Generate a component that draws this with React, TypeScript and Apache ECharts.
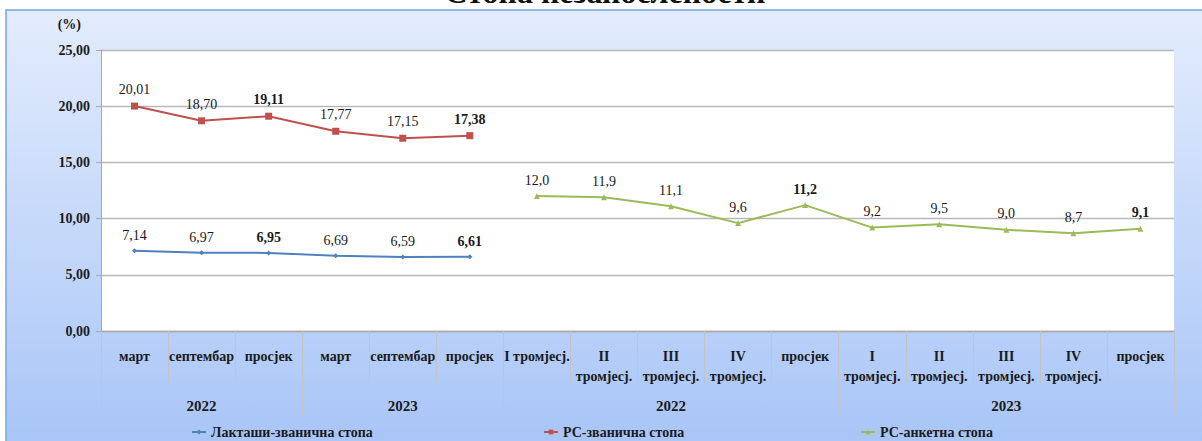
import React, { useEffect, useRef } from 'react';
import * as echarts from 'echarts';

const title = 'Стопа незапослености';
const unitLabel = '(%)';
const categories = [
  'март', 'септембар', 'просјек', 'март', 'септембар', 'просјек',
  'I тромјесј.', 'II\nтромјесј.', 'III\nтромјесј.', 'IV\nтромјесј.', 'просјек',
  'I\nтромјесј.', 'II\nтромјесј.', 'III\nтромјесј.', 'IV\nтромјесј.', 'просјек',
];
const yearGroups = ['2022', '2023', '2022', '2023'];
const groupSizes = [3, 3, 5, 5];
const seriesNames = ['Лакташи-званична стопа', 'РС-званична стопа', 'РС-анкетна стопа'];
const laktasiOfficial = [7.14, 6.97, 6.95, 6.69, 6.59, 6.61];
const rsOfficial = [20.01, 18.7, 19.11, 17.77, 17.15, 17.38];
const rsSurvey = [12.0, 11.9, 11.1, 9.6, 11.2, 9.2, 9.5, 9.0, 8.7, 9.1];
const yTicks = [0, 5, 10, 15, 20, 25];

const FONT = "'Liberation Serif', 'Times New Roman', serif";
const TEXT = '#1a1a1a';

function groupStarts(): number[] {
  const s: number[] = [];
  let acc = 0;
  groupSizes.forEach((g) => { s.push(acc); acc += g; });
  return s;
}

function yearAxisData(): string[] {
  const arr = categories.map(() => '');
  const starts = groupStarts();
  starts.forEach((st, gi) => { arr[st + Math.floor(groupSizes[gi] / 2)] = yearGroups[gi]; });
  return arr;
}

function buildData(values: number[], start: number) {
  return categories.map((c, i) => {
    if (i < start || i >= start + values.length) return null;
    const v = values[i - start];
    return c === 'просјек' ? { value: v, label: { fontWeight: 'bold' } } : v;
  });
}

const fmt = (d: number) => (p: any) => {
  const v = p.value;
  if (v == null || v === '-') return '';
  return Number(v).toFixed(d).replace('.', ',');
};

export default function App() {
  const ref = useRef<HTMLDivElement>(null);
  useEffect(() => {
    document.body.style.margin = '0';
    const chart = echarts.init(ref.current!, null, { renderer: 'svg' });
    const starts = groupStarts();
    const yearData = yearAxisData();
    const colors = ['#4f81bd', '#c0504d', '#9bbb59'];
    const symbols = ['diamond', 'rect', 'triangle'];
    const symbolSizes = [5, 7, 6];
    const seriesValues = [laktasiOfficial, rsOfficial, rsSurvey];
    const seriesStart = [0, 0, starts[2]];
    const decimals = [2, 2, 1];
    const legendLeft = [186, 538, 855];

    chart.setOption({
      animation: false,
      graphic: [
        {
          type: 'rect',
          z: -100,
          silent: true,
          shape: { x: 6, y: 10, width: 1220, height: 460 },
          style: {
            fill: new echarts.graphic.LinearGradient(0, 0, 0, 1, [
              { offset: 0, color: '#e3ecfd' },
              { offset: 1, color: '#a5c3f7' },
            ]),
            stroke: '#78a5db',
            lineWidth: 1.5,
          },
        },
        {
          type: 'text',
          z: 100,
          x: 605,
          y: -8,
          style: {
            text: title,
            fontFamily: FONT,
            fontWeight: 'bold',
            fontSize: 32,
            fill: '#111',
            align: 'center',
            verticalAlign: 'middle',
          },
        },
      ],
      grid: {
        left: 101, top: 50, right: 28, bottom: 110,
        show: true, backgroundColor: '#ffffff', borderWidth: 0,
      },
      legend: seriesNames.map((n, i) => ({
        data: [n],
        left: legendLeft[i],
        top: 420,
        itemWidth: 14,
        itemHeight: 6,
        itemGap: 4,
        textStyle: { fontFamily: FONT, fontWeight: 'bold', fontSize: 14, color: TEXT },
      })),
      xAxis: [
        {
          type: 'category',
          data: categories,
          boundaryGap: true,
          axisLine: { show: true, lineStyle: { color: '#a8a8a8', width: 1.3 } },
          axisTick: { show: true, interval: 0, length: 52, lineStyle: { color: '#c4c4c4' } },
          axisLabel: {
            interval: 0, margin: 15, fontFamily: FONT, fontWeight: 'bold', fontSize: 14,
            color: TEXT, lineHeight: 20,
          },
          splitLine: { show: false },
        },
        {
          type: 'category',
          data: yearData,
          position: 'bottom',
          boundaryGap: true,
          axisLine: { show: false },
          axisTick: {
            show: true,
            length: 84,
            interval: (i: number) => starts.includes(i),
            lineStyle: { color: '#c4c4c4' },
          },
          axisLabel: {
            interval: (i: number) => yearData[i] !== '',
            margin: 67, fontFamily: FONT, fontWeight: 'bold', fontSize: 15, color: TEXT,
          },
          splitLine: { show: false },
        },
      ],
      yAxis: {
        type: 'value',
        min: yTicks[0],
        max: yTicks[yTicks.length - 1],
        interval: yTicks[1] - yTicks[0],
        name: unitLabel,
        nameLocation: 'end',
        nameGap: 19,
        nameTextStyle: {
          fontFamily: FONT, fontWeight: 'bold', fontSize: 14, color: TEXT,
          align: 'right', padding: [0, 20, 0, 0],
        },
        axisLine: { show: true, lineStyle: { color: '#a8a8a8' } },
        axisTick: { show: true, length: 5, lineStyle: { color: '#a8a8a8' } },
        axisLabel: {
          margin: 11, fontFamily: FONT, fontWeight: 'bold', fontSize: 14, color: TEXT,
          formatter: (v: number) => v.toFixed(2).replace('.', ','),
        },
        splitLine: { lineStyle: { color: '#b8b8b8', width: 1.3 } },
      },
      series: seriesNames.map((n, i) => ({
        name: n,
        type: 'line',
        xAxisIndex: 0,
        data: buildData(seriesValues[i], seriesStart[i]),
        color: colors[i],
        symbol: symbols[i],
        symbolSize: symbolSizes[i],
        showAllSymbol: true,
        lineStyle: { width: 2, color: colors[i] },
        itemStyle: { color: colors[i] },
        label: {
          show: true, position: 'top', distance: 6,
          fontFamily: FONT, fontSize: 14, color: TEXT,
          formatter: fmt(decimals[i]),
        },
      })),
    });
    return () => chart.dispose();
  }, []);
  return <div ref={ref} style={{ width: 1202, height: 441 }} />;
}
